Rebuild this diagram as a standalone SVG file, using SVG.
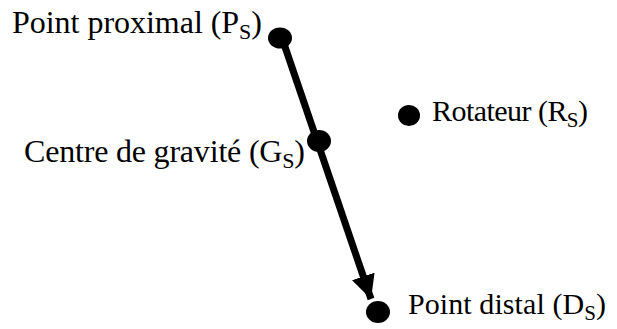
<svg xmlns="http://www.w3.org/2000/svg" width="617" height="329" viewBox="0 0 617 329">
<style>
text{font-family:"Liberation Serif","Times New Roman",serif;font-size:32px;fill:#000}
.sm{font-size:30px}
.sub{font-size:22px}
.sm .sub{font-size:21px}
.dot{fill:#000}
</style>
<defs>
<marker id="ah" viewBox="0 0 10 10" refX="10" refY="5" markerWidth="3.4" markerHeight="3.4" orient="auto" markerUnits="strokeWidth">
<path d="M0,0 L10,5 L0,10 z" fill="#000"/>
</marker>
</defs>
<rect width="617" height="329" fill="#fff"/>
<g id="connectors">
<line x1="282" y1="38" x2="371" y2="299" stroke="#000" stroke-width="7" marker-end="url(#ah)"/>
</g>
<g id="node-proximal">
<ellipse class="dot" cx="280" cy="38" rx="12" ry="10.5"/>
<text x="12" y="33" textLength="250">Point proximal (P<tspan class="sub" dy="6">S</tspan><tspan dy="-6">)</tspan></text>
</g>
<g id="node-gravite">
<ellipse class="dot" cx="319" cy="141" rx="12" ry="11"/>
<text x="24" y="162" textLength="281">Centre de gravité (G<tspan class="sub" dy="6">S</tspan><tspan dy="-6">)</tspan></text>
</g>
<g id="node-rotateur">
<ellipse class="dot" cx="409" cy="115.5" rx="11" ry="10.5"/>
<text class="sm" x="432" y="121" textLength="156">Rotateur (R<tspan class="sub" dy="6">S</tspan><tspan dy="-6">)</tspan></text>
</g>
<g id="node-distal">
<ellipse class="dot" cx="378" cy="312" rx="12" ry="11"/>
<text class="sm" x="408" y="314" textLength="198">Point distal (D<tspan class="sub" dy="6">S</tspan><tspan dy="-6">)</tspan></text>
</g>
</svg>
